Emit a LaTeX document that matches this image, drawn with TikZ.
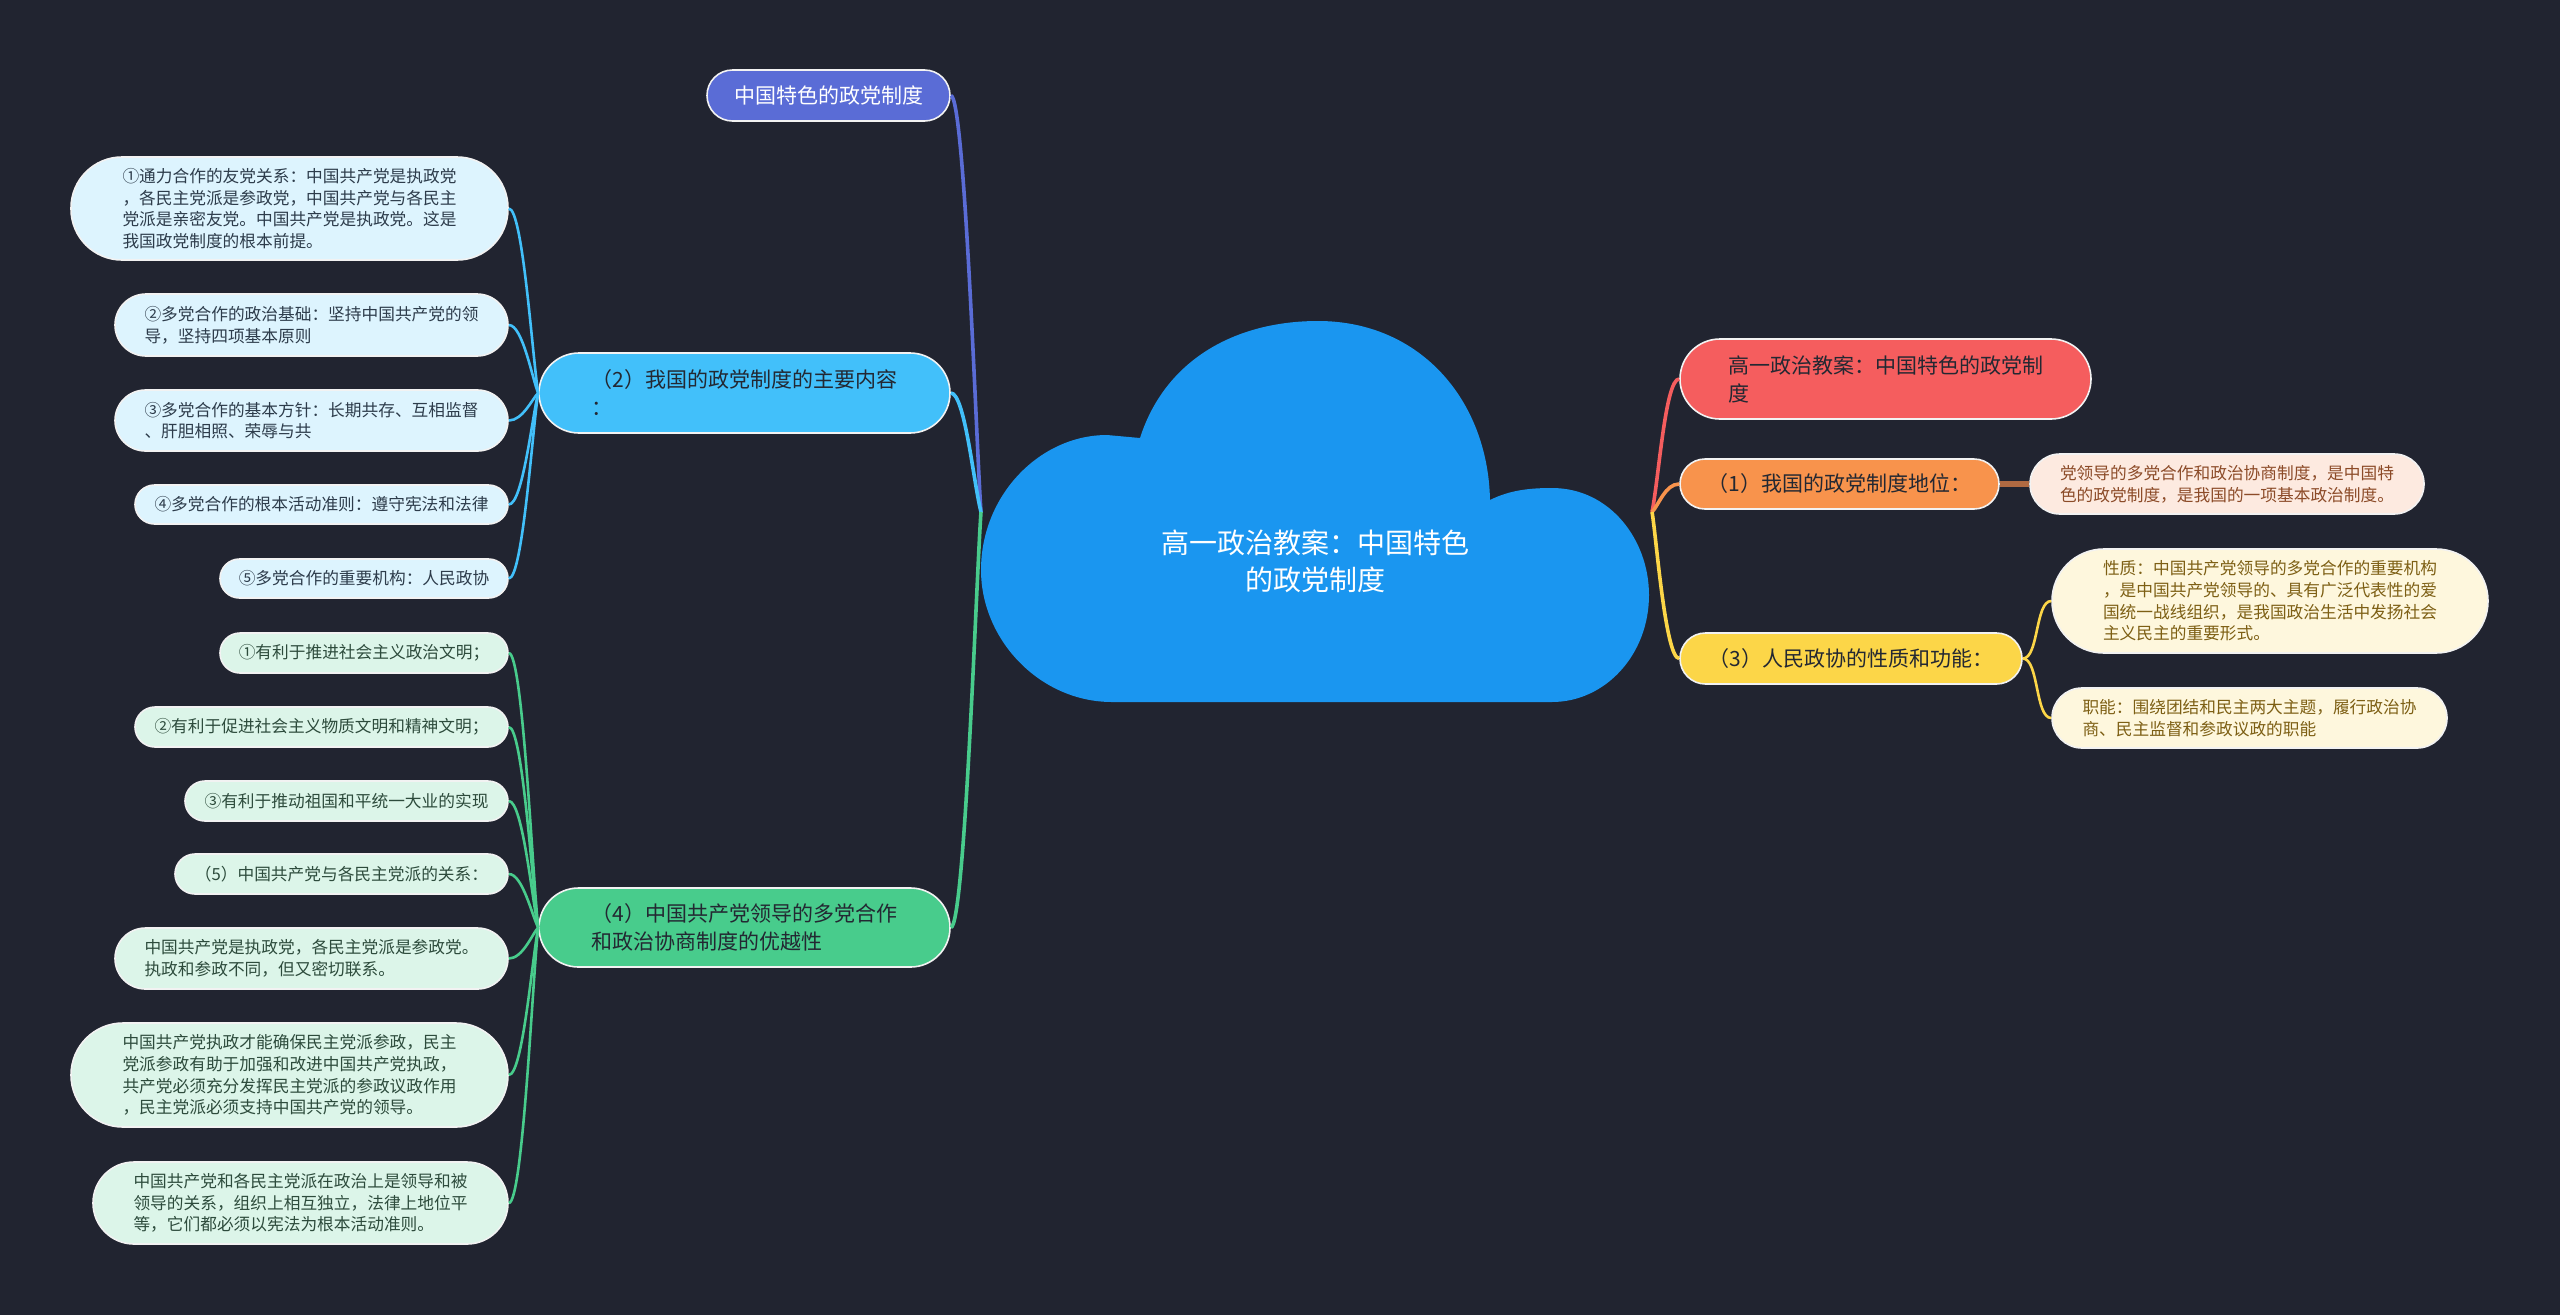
\documentclass[tikz,border=0pt]{standalone}
\usepackage{fontspec}
\setmainfont{Noto Sans CJK SC}
\usetikzlibrary{calc}
\definecolor{bg}{RGB}{33,36,48}
\definecolor{cloudc}{RGB}{26,150,240}
\definecolor{cTop}{RGB}{90,108,214}
\definecolor{cBlue}{RGB}{66,192,250}
\definecolor{cBlueL}{RGB}{221,244,254}
\definecolor{cGreen}{RGB}{72,204,140}
\definecolor{cGreenL}{RGB}{220,245,233}
\definecolor{cRed}{RGB}{245,93,94}
\definecolor{cOrange}{RGB}{248,147,76}
\definecolor{cOrangeL}{RGB}{253,234,224}
\definecolor{cYellow}{RGB}{252,214,72}
\definecolor{cYellowL}{RGB}{254,247,221}
\definecolor{tDark}{RGB}{35,40,50}
\definecolor{tBlue}{RGB}{45,60,75}
\definecolor{tGreen}{RGB}{45,75,60}
\definecolor{tOrange}{RGB}{140,75,40}
\definecolor{tYellow}{RGB}{125,95,20}
\definecolor{cLink}{RGB}{176,106,66}
\tikzset{
  pill/.style={inner sep=0pt, draw=white!90!gray, line width=1.6pt, align=left},
  brbox/.style={pill, font=\fontsize{21}{28}\selectfont},
  lfbox/.style={pill, font=\fontsize{16.7}{21.7}\selectfont},
  bconn/.style={line width=3.6pt},
  lconn/.style={line width=2.6pt},
}
\begin{document}
\begin{tikzpicture}[x=1pt,y=-1pt]
\fill[bg] (0,0) rectangle (2560,1315);
\useasboundingbox (0,0) rectangle (2560,1315);

% cloud
\fill[cloudc] (1112,702) .. controls (1040,702) and (981,640) .. (981,570)
  .. controls (981,495) and (1040,435) .. (1107,435) -- (1140,438)
  .. controls (1165,360) and (1235,321) .. (1318,321)
  .. controls (1420,321) and (1488,400) .. (1490,500)
  .. controls (1510,490) and (1530,488) .. (1552,488)
  .. controls (1610,488) and (1649,540) .. (1649,595)
  .. controls (1649,655) and (1605,702) .. (1552,702) -- cycle;
\node[font=\fontsize{28}{37}\selectfont, text=white, align=center] (root) at (1315,561) {高一政治教案：中国特色\\的政党制度};
\coordinate (rootL) at (981,512);
\coordinate (rootR) at (1652,512);

% left branches
\node[brbox, fill=cTop, text=white, minimum width=243pt, minimum height=51pt, rounded corners=25.5pt] (top) at (828.5,95.5) {中国特色的政党制度};
\node[brbox, fill=cBlue, text=tDark, minimum width=411pt, minimum height=80pt, rounded corners=40pt] (n2) at (744.5,393) {（2）我国的政党制度的主要内容\\：};
\node[brbox, fill=cGreen, text=tDark, minimum width=411pt, minimum height=79pt, rounded corners=39.5pt] (n4) at (744.5,927.5) {（4）中国共产党领导的多党合作\\和政治协商制度的优越性};

% blue leaves
\node[lfbox, fill=cBlueL, text=tBlue, minimum width=437pt, minimum height=103pt, rounded corners=51pt] (b1) at (289.5,208.5) {①通力合作的友党关系：中国共产党是执政党\\，各民主党派是参政党，中国共产党与各民主\\党派是亲密友党。中国共产党是执政党。这是\\我国政党制度的根本前提。};
\node[lfbox, fill=cBlueL, text=tBlue, minimum width=393pt, minimum height=62pt, rounded corners=31pt] (b2) at (311.5,325) {②多党合作的政治基础：坚持中国共产党的领\\导，坚持四项基本原则};
\node[lfbox, fill=cBlueL, text=tBlue, minimum width=393pt, minimum height=61pt, rounded corners=30.5pt] (b3) at (311.5,420.5) {③多党合作的基本方针：长期共存、互相监督\\、肝胆相照、荣辱与共};
\node[lfbox, fill=cBlueL, text=tBlue, minimum width=373pt, minimum height=39pt, rounded corners=19.5pt] (b4) at (321.5,504.5) {④多党合作的根本活动准则：遵守宪法和法律};
\node[lfbox, fill=cBlueL, text=tBlue, minimum width=288pt, minimum height=39pt, rounded corners=19.5pt] (b5) at (364,578.5) {⑤多党合作的重要机构：人民政协};

% green leaves
\node[lfbox, fill=cGreenL, text=tGreen, minimum width=288pt, minimum height=40pt, rounded corners=20pt] (g1) at (364,653) {①有利于推进社会主义政治文明；};
\node[lfbox, fill=cGreenL, text=tGreen, minimum width=373pt, minimum height=40pt, rounded corners=20pt] (g2) at (321.5,727) {②有利于促进社会主义物质文明和精神文明；};
\node[lfbox, fill=cGreenL, text=tGreen, minimum width=323pt, minimum height=40pt, rounded corners=20pt] (g3) at (346.5,801) {③有利于推动祖国和平统一大业的实现};
\node[lfbox, fill=cGreenL, text=tGreen, minimum width=333pt, minimum height=40pt, rounded corners=20pt] (g4) at (341.5,874) {（5）中国共产党与各民主党派的关系：};
\node[lfbox, fill=cGreenL, text=tGreen, minimum width=393pt, minimum height=61pt, rounded corners=30.5pt] (g5) at (311.5,958.5) {中国共产党是执政党，各民主党派是参政党。\\执政和参政不同，但又密切联系。};
\node[lfbox, fill=cGreenL, text=tGreen, minimum width=437pt, minimum height=104pt, rounded corners=52pt] (g6) at (289.5,1075) {中国共产党执政才能确保民主党派参政，民主\\党派参政有助于加强和改进中国共产党执政，\\共产党必须充分发挥民主党派的参政议政作用\\，民主党派必须支持中国共产党的领导。};
\node[lfbox, fill=cGreenL, text=tGreen, minimum width=415pt, minimum height=82pt, rounded corners=41pt] (g7) at (300.5,1203) {中国共产党和各民主党派在政治上是领导和被\\领导的关系，组织上相互独立，法律上地位平\\等，它们都必须以宪法为根本活动准则。};

% right branches
\node[brbox, fill=cRed, text=tDark, minimum width=411pt, minimum height=80pt, rounded corners=40pt] (red) at (1885.5,379) {高一政治教案：中国特色的政党制\\度};
\node[brbox, fill=cOrange, text=tDark, minimum width=319pt, minimum height=50pt, rounded corners=25pt] (org) at (1839.5,484) {（1）我国的政党制度地位：};
\node[brbox, fill=cYellow, text=tDark, minimum width=342pt, minimum height=51pt, rounded corners=25.5pt] (yel) at (1851,658.5) {（3）人民政协的性质和功能：};

\node[lfbox, fill=cOrangeL, text=tOrange, minimum width=394pt, minimum height=60pt, rounded corners=30pt] (oc) at (2227,484) {党领导的多党合作和政治协商制度，是中国特\\色的政党制度，是我国的一项基本政治制度。};
\node[lfbox, fill=cYellowL, text=tYellow, minimum width=436pt, minimum height=104pt, rounded corners=52pt] (y1) at (2270,601) {性质：中国共产党领导的多党合作的重要机构\\，是中国共产党领导的、具有广泛代表性的爱\\国统一战线组织，是我国政治生活中发扬社会\\主义民主的重要形式。};
\node[lfbox, fill=cYellowL, text=tYellow, minimum width=395pt, minimum height=60pt, rounded corners=30pt] (y2) at (2249.5,718) {职能：围绕团结和民主两大主题，履行政治协\\商、民主监督和参政议政的职能};

% connectors left
\draw[bconn, cTop] (top.east) .. controls +(14,0) and ($(rootL)!0.15!(top.east)$) .. (rootL);
\draw[bconn, cBlue] (n2.east) .. controls +(14,0) and ($(rootL)!0.25!(n2.east)$) .. (rootL);
\draw[bconn, cGreen] (n4.east) .. controls +(14,0) and ($(rootL)!0.15!(n4.east)$) .. (rootL);
\foreach \k in {b1,b2,b3,b4,b5}{
  \draw[lconn, cBlue] (\k.east) .. controls +(14,0) and ($(n2.west)!0.2!(\k.east)$) .. (n2.west);
}
\foreach \k in {g1,g2,g3,g4,g5,g6,g7}{
  \draw[lconn, cGreen] (\k.east) .. controls +(14,0) and ($(n4.west)!0.2!(\k.east)$) .. (n4.west);
}
% connectors right
\draw[bconn, cRed] (rootR) .. controls ($(rootR)!0.25!(red.west)$) and +(-14,0) .. (red.west);
\draw[bconn, cOrange] (rootR) .. controls ($(rootR)!0.25!(org.west)$) and +(-14,0) .. (org.west);
\draw[bconn, cYellow] (rootR) .. controls ($(rootR)!0.15!(yel.west)$) and +(-14,0) .. (yel.west);
\draw[line width=6pt, cLink] (org.east) -- (oc.west);
\draw[lconn, cYellow] (yel.east) .. controls +(16,0) and +(-16,0) .. (y1.west);
\draw[lconn, cYellow] (yel.east) .. controls +(16,0) and +(-16,0) .. (y2.west);
\end{tikzpicture}
\end{document}
